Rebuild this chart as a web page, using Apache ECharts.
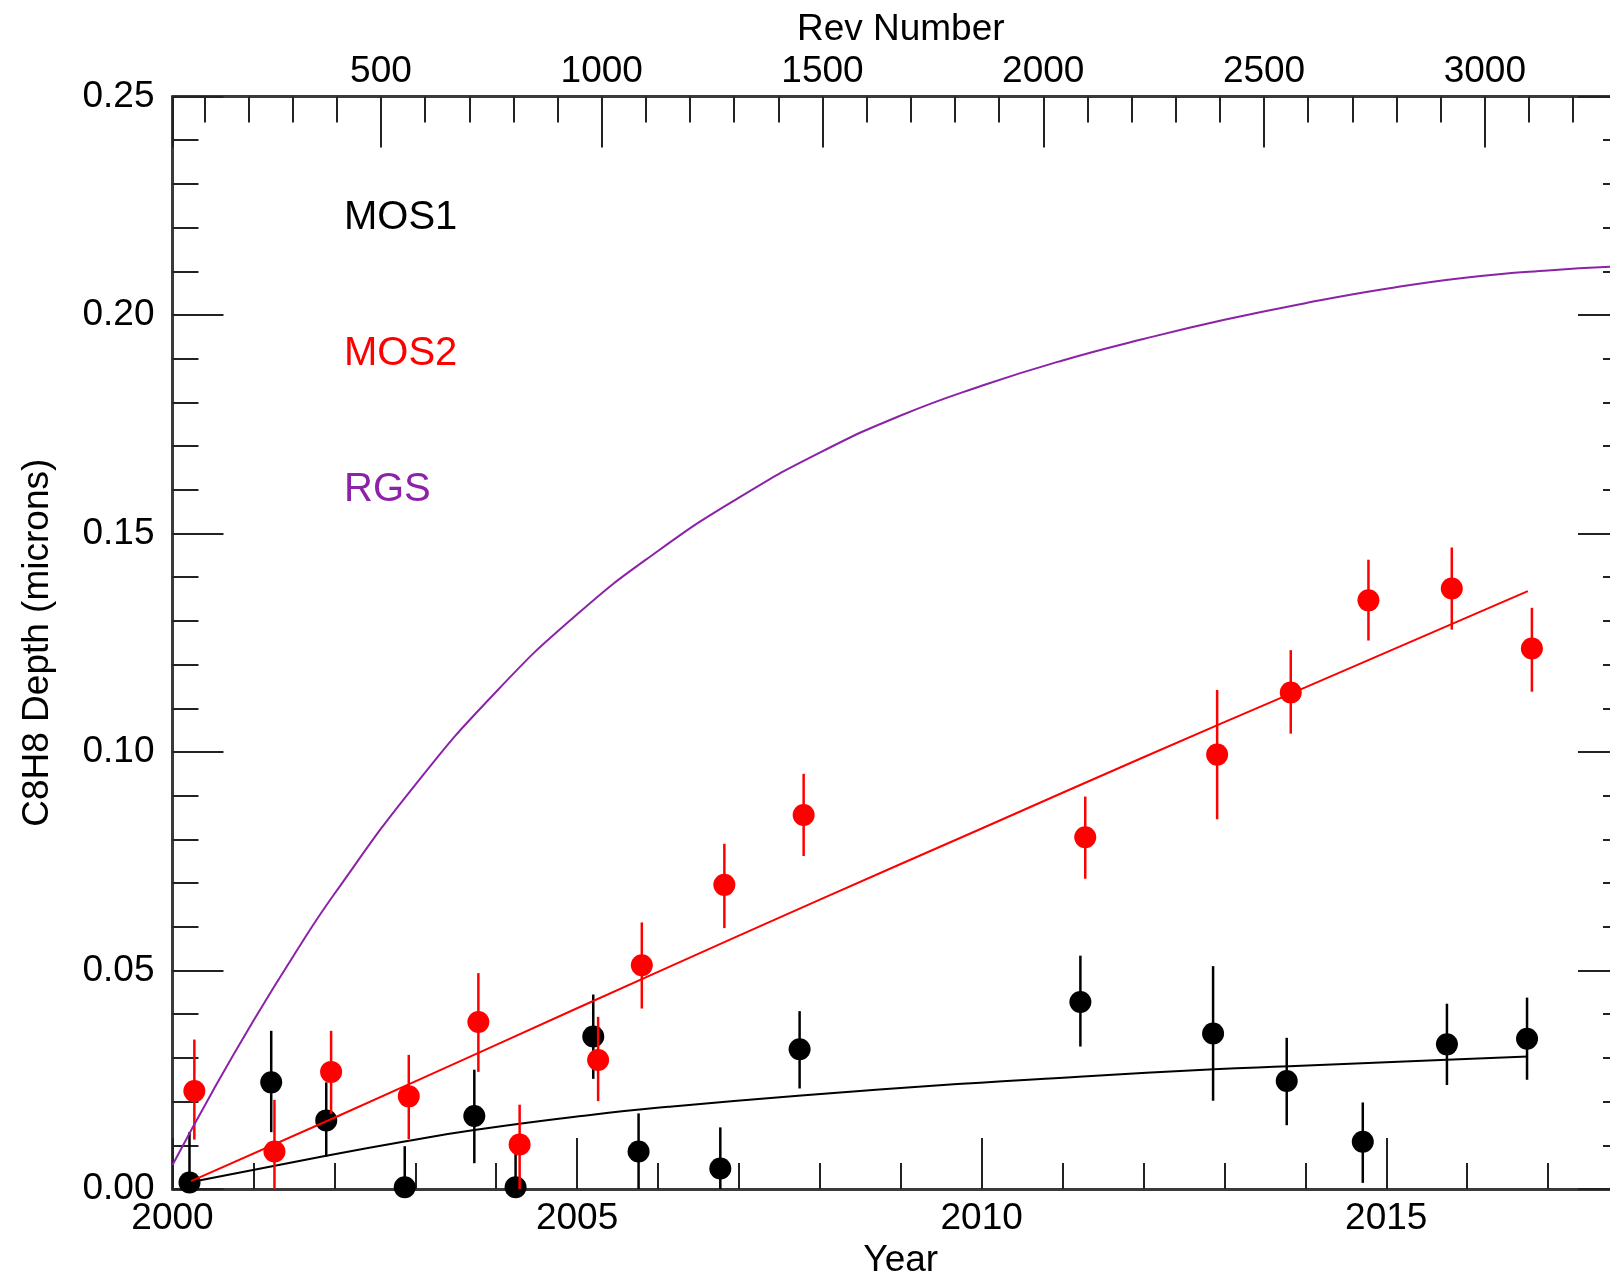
<!DOCTYPE html>
<html>
<head>
<meta charset="utf-8">
<script src="https://cdn.jsdelivr.net/npm/echarts@6/dist/echarts.min.js"></script>
<style>
  html, body { margin: 0; padding: 0; background: #fff; }
  #chart-depth { width: 1610px; height: 1275px; }
</style>
</head>
<body>
<div id="chart-depth"></div>
<script>
// MOS1 measurements (black)
var mos1Year = [2000.21, 2001.22, 2001.90, 2002.87, 2003.73, 2004.24, 2005.20, 2005.76, 2006.77, 2007.75, 2011.22, 2012.86, 2013.77, 2014.71, 2015.75, 2016.74];
var mos1Depth = [0.0015, 0.0244, 0.0157, 0.0004, 0.0167, 0.0004, 0.0349, 0.0086, 0.0047, 0.0320, 0.0428, 0.0356, 0.0247, 0.0108, 0.0331, 0.0344];
var mos1Low = [0.0, 0.0130, 0.0074, 0.0, 0.0059, 0.0, 0.0252, 0.0, 0.0, 0.0230, 0.0326, 0.0202, 0.0146, 0.0014, 0.0238, 0.0250];
var mos1High = [0.0130, 0.0362, 0.0244, 0.0098, 0.0273, 0.0085, 0.0445, 0.0173, 0.0141, 0.0407, 0.0534, 0.0510, 0.0346, 0.0198, 0.0424, 0.0438];

// MOS2 measurements (red)
var mos2Year = [2000.27, 2001.26, 2001.96, 2002.92, 2003.78, 2004.29, 2005.26, 2005.80, 2006.82, 2007.80, 2011.28, 2012.91, 2013.82, 2014.78, 2015.81, 2016.80];
var mos2Depth = [0.0224, 0.0086, 0.0268, 0.0212, 0.0382, 0.0102, 0.0295, 0.0512, 0.0696, 0.0856, 0.0805, 0.0994, 0.1136, 0.1347, 0.1374, 0.1237];
var mos2Low = [0.0113, 0.0, 0.0172, 0.0114, 0.0268, 0.0, 0.0201, 0.0413, 0.0597, 0.0762, 0.0710, 0.0846, 0.1042, 0.1255, 0.1280, 0.1138];
var mos2High = [0.0342, 0.0204, 0.0362, 0.0307, 0.0494, 0.0193, 0.0394, 0.0610, 0.0790, 0.0950, 0.0898, 0.1142, 0.1233, 0.1440, 0.1468, 0.1330];

// fitted curves
var mos1FitYear = [2000.2, 2001.9, 2002.85, 2003.73, 2005.19, 2006.13, 2007.77, 2009.7, 2011.2, 2012.87, 2013.8, 2015.75, 2016.75];
var mos1FitDepth = [0.0015, 0.0076, 0.0108, 0.0135, 0.0170, 0.0188, 0.0214, 0.0240, 0.0257, 0.0274, 0.0281, 0.0296, 0.0303];
var mos2FitYear = [2000.23, 2002, 2004, 2006, 2008, 2010, 2012, 2014, 2016, 2016.75];
var mos2FitDepth = [0.0018, 0.0163, 0.0330, 0.0497, 0.0662, 0.0825, 0.0988, 0.1148, 0.1308, 0.1368];
var rgsYear = [2000, 2000.5, 2001, 2001.5, 2002, 2003, 2004, 2005, 2006, 2007, 2008, 2009, 2010, 2011, 2012, 2013, 2014, 2015, 2016, 2017, 2018];
var rgsDepth = [0.0055, 0.0225, 0.0385, 0.0535, 0.0675, 0.0925, 0.1138, 0.1315, 0.1460, 0.1582, 0.1685, 0.1770, 0.1838, 0.1896, 0.1945, 0.1989, 0.2027, 0.2060, 0.2086, 0.2102, 0.2112];

var revMin = 27.8;
var revMax = 3326.6;

var FONT = '"Liberation Sans", Arial, Helvetica, sans-serif';
var RED = "#ff0000";
var PURPLE = "#8b22a8";

function zip2(a, b) {
  var out = [];
  for (let i = 0; i < a.length; i++) out.push([a[i], b[i]]);
  return out;
}

function zip3(a, b, c) {
  var out = [];
  for (let i = 0; i < a.length; i++) out.push([a[i], b[i], c[i]]);
  return out;
}

function errorBars(color) {
  return function (params, api) {
    var lo = api.coord([api.value(0), api.value(1)]);
    var hi = api.coord([api.value(0), api.value(2)]);
    return {
      type: "line",
      shape: { x1: lo[0], y1: lo[1], x2: hi[0], y2: hi[1] },
      style: { stroke: color, lineWidth: 2.5 },
    };
  };
}

function frameAxis(extra) {
  var base = {
    type: "value",
    axisLine: { show: true, onZero: false, lineStyle: { color: "#3a3a3a", width: 3 } },
    axisTick: { show: true, inside: true, length: 51, lineStyle: { color: "#222", width: 2 } },
    minorTick: { show: true, splitNumber: 5, length: 26, lineStyle: { color: "#222", width: 2 } },
    splitLine: { show: false },
    minorSplitLine: { show: false },
    axisLabel: { color: "#000", fontFamily: FONT, fontSize: 37 },
    nameTextStyle: { color: "#000", fontFamily: FONT, fontSize: 37 },
  };
  return Object.assign(base, extra);
}

function depth() {
  var myChart = echarts.init(document.getElementById("chart-depth"), null, { renderer: "canvas" });

  var option = {
    animation: false,
    backgroundColor: "#fff",
    grid: {
      left: 172.5,
      right: -19,
      top: 96.5,
      bottom: 86,
      containLabel: false,
      outerBoundsMode: "none",
    },
    xAxis: [
      frameAxis({
        position: "bottom",
        min: 2000,
        max: 2018,
        interval: 5,
        name: "Year",
        nameLocation: "middle",
        nameGap: 52,
        axisLabel: {
          color: "#000", fontFamily: FONT, fontSize: 37, margin: 11,
          showMaxLabel: false,
          formatter: function (v) { return v % 5 === 0 ? String(v) : ""; },
        },
      }),
      frameAxis({
        position: "top",
        min: revMin,
        max: revMax,
        splitNumber: 6,
        name: "Rev Number",
        nameLocation: "middle",
        nameGap: 46,
        axisLabel: {
          color: "#000", fontFamily: FONT, fontSize: 37, margin: 6,
          showMinLabel: false,
          showMaxLabel: false,
          formatter: function (v) { return v % 500 === 0 ? String(v) : ""; },
        },
      }),
    ],
    yAxis: [
      frameAxis({
        position: "left",
        min: 0,
        max: 0.25,
        interval: 0.05,
        name: "C8H8 Depth (microns)",
        nameLocation: "middle",
        nameGap: 116,
        axisLabel: {
          color: "#000", fontFamily: FONT, fontSize: 37, margin: 18,
          formatter: function (v) { return v.toFixed(2); },
        },
      }),
      frameAxis({
        position: "right",
        min: 0,
        max: 0.25,
        interval: 0.05,
        axisLabel: { show: false },
      }),
    ],
    series: [
      {
        name: "MOS1 errors",
        type: "custom",
        renderItem: errorBars("#000"),
        encode: { x: 0, y: [1, 2] },
        data: zip3(mos1Year, mos1Low, mos1High),
        z: 2,
      },
      {
        name: "MOS1",
        type: "scatter",
        symbol: "circle",
        symbolSize: 22,
        itemStyle: { color: "#000", opacity: 1 },
        data: zip2(mos1Year, mos1Depth),
        z: 3,
      },
      {
        name: "MOS1 fit",
        type: "line",
        smooth: true,
        showSymbol: false,
        lineStyle: { color: "#000", width: 2 },
        data: zip2(mos1FitYear, mos1FitDepth),
        z: 4,
      },
      {
        name: "MOS2 errors",
        type: "custom",
        renderItem: errorBars(RED),
        encode: { x: 0, y: [1, 2] },
        data: zip3(mos2Year, mos2Low, mos2High),
        z: 5,
      },
      {
        name: "MOS2",
        type: "scatter",
        symbol: "circle",
        symbolSize: 22,
        itemStyle: { color: RED, opacity: 1 },
        data: zip2(mos2Year, mos2Depth),
        z: 6,
      },
      {
        name: "MOS2 fit",
        type: "line",
        smooth: true,
        showSymbol: false,
        lineStyle: { color: RED, width: 2 },
        data: zip2(mos2FitYear, mos2FitDepth),
        z: 7,
      },
      {
        name: "RGS",
        type: "line",
        smooth: true,
        showSymbol: false,
        lineStyle: { color: PURPLE, width: 2 },
        data: zip2(rgsYear, rgsDepth),
        z: 8,
      },
    ],
    graphic: [
      { type: "text", x: 344, y: 218, style: { text: "MOS1", fill: "#000", font: "40px " + FONT, verticalAlign: "middle" } },
      { type: "text", x: 344, y: 354, style: { text: "MOS2", fill: RED, font: "40px " + FONT, verticalAlign: "middle" } },
      { type: "text", x: 344, y: 490, style: { text: "RGS", fill: PURPLE, font: "40px " + FONT, verticalAlign: "middle" } },
    ],
  };

  myChart.setOption(option);
}

window.onload = function () {
  depth();
};
</script>
</body>
</html>
